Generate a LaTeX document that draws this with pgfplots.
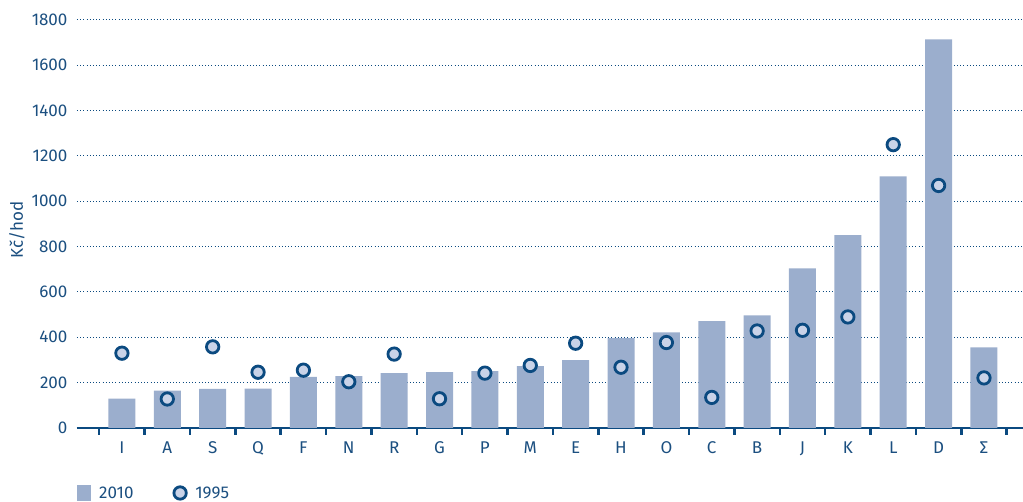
\documentclass[border=0pt]{standalone}
\usepackage{fontspec}
\setmainfont{Fira Sans}
\usepackage{pgfplots}
\pgfplotsset{compat=1.18}

\definecolor{txt}{HTML}{1B4F80}
\definecolor{axc}{HTML}{0B4A80}
\definecolor{barc}{HTML}{9BAECD}
\definecolor{dotc}{HTML}{C9D3E8}

\begin{document}
\begin{tikzpicture}
  \begin{axis}[
      name=ax,
      scale only axis,
      width=946pt, height=408pt,
      xmin=-0.99, xmax=19.86,
      ymin=0, ymax=1800,
      axis x line*=bottom,
      axis y line*=left,
      x axis line style={-, line width=2.5pt, color=axc},
      y axis line style={draw=none},
      tick align=outside,
      xtick={0,...,19},
      xticklabels={I,A,S,Q,F,N,R,G,P,M,E,H,O,C,B,J,K,L,D,Σ},
      minor xtick={-0.5,0.5,...,19.5},
      major x tick style={draw=none},
      minor x tick style={line width=2.5pt, color=axc},
      minor tick length=7pt,
      ytick={0,200,...,1800},
      major y tick style={draw=none},
      major tick length=0pt,
      ymajorgrids=true,
      grid style={color=axc, line width=1pt, dash pattern=on 1pt off 2.2pt},
      /pgf/number format/assume math mode=true,
      /pgf/number format/1000 sep={},
      ticklabel style={font=\fontsize{17}{20}\selectfont, text=txt},
      yticklabel style={xshift=-6pt},
      xticklabel style={yshift=-10pt},
      ylabel={Kč/hod},
      ylabel style={at={(axis description cs:-0.0634,0.485)}, anchor=center,
        font=\fontsize{17}{20}\selectfont, text=txt},
      legend columns=2,
      legend style={at={(0,0)}, anchor=west, xshift=-3pt, yshift=-65pt, draw=none, fill=none,
        font=\fontsize{17}{20}\selectfont, text=txt,
        /tikz/every even column/.append style={column sep=37pt}},
      legend cell align=left,
    ]
    \addplot[ybar, bar width=27pt, fill=barc, draw=none,
      legend image code/.code={\fill[barc] (0pt,-8pt) rectangle (14pt,8pt); \path (20pt,0pt);}]
      coordinates {
        (0,130) (1,165) (2,173) (3,174) (4,225) (5,229) (6,242) (7,246)
        (8,251) (9,273) (10,299) (11,396) (12,422) (13,471) (14,497)
        (15,704) (16,851) (17,1110) (18,1714) (19,356)
      };
    \addplot[only marks, mark=*, mark size=6.2pt,
      mark options={fill=dotc, draw=axc, line width=2.8pt},
      legend image code/.code={\draw[axc, fill=dotc, line width=2.8pt] (7pt,0pt) circle (6.2pt); \path (20pt,0pt);}]
      coordinates {
        (0,330) (1,128) (2,358) (3,246) (4,255) (5,204) (6,326) (7,129)
        (8,242) (9,276) (10,374) (11,268) (12,377) (13,135) (14,428)
        (15,431) (16,490) (17,1250) (18,1070) (19,221)
      };
    \legend{2010, 1995}
  \end{axis}
  \pgfresetboundingbox
  \path (ax.south west) ++(-77pt,-74pt) rectangle ++(1023pt,502pt);
\end{tikzpicture}
\end{document}
